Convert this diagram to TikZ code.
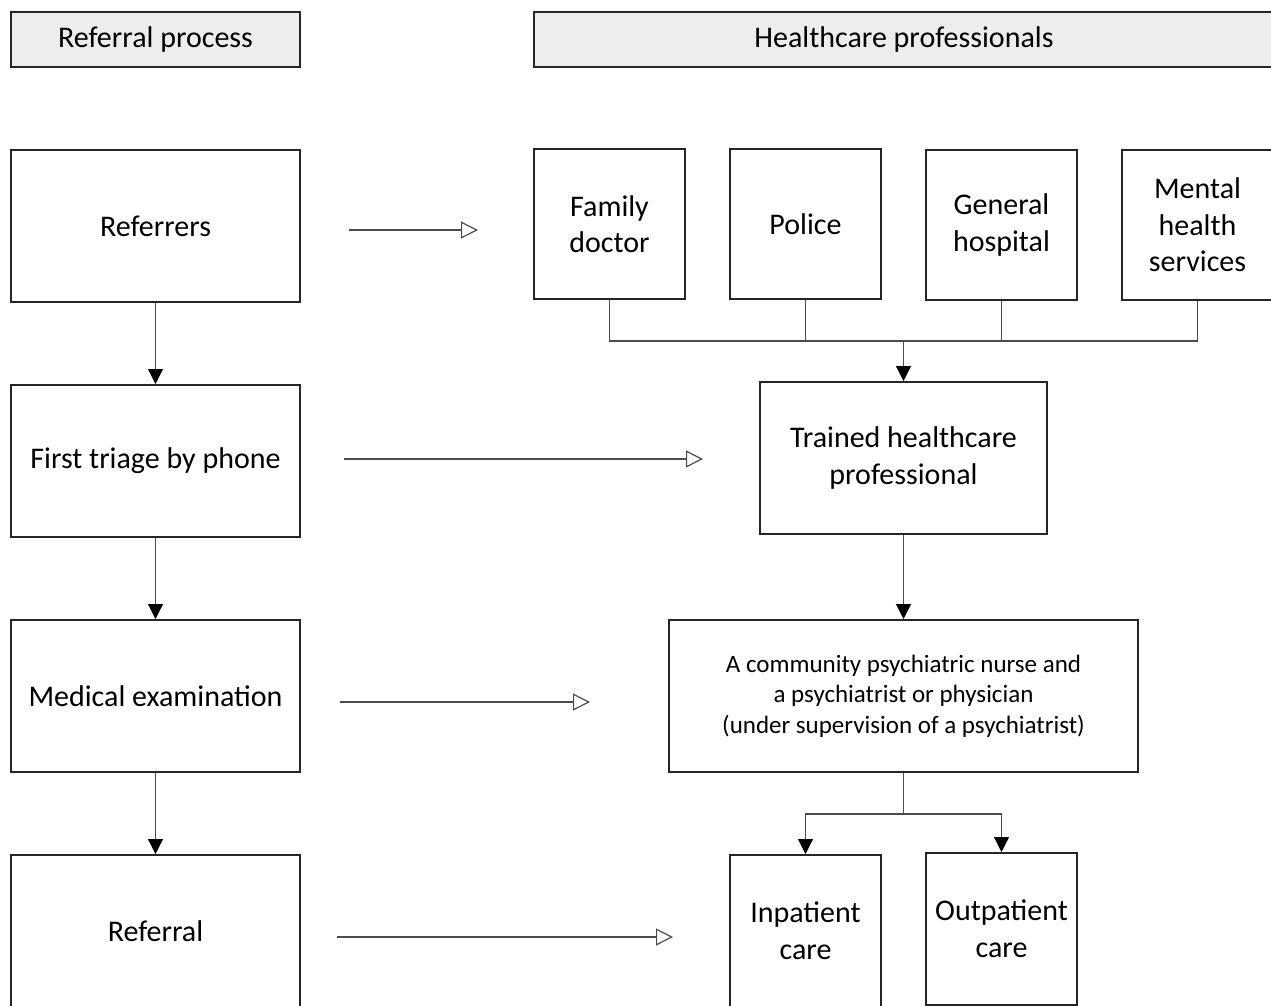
\documentclass[tikz,border=0pt]{standalone}
\usepackage{fontspec}
\setmainfont{Carlito}
\usetikzlibrary{arrows.meta}
\begin{document}
\begin{tikzpicture}[x=1pt,y=-1pt,
 box/.style={draw=black!85,line width=2pt,align=center,font=\fontsize{30}{36.6}\selectfont,inner sep=0pt},
 hdr/.style={box,fill=black!7},
 conn/.style={draw=black!70,line width=1.2pt},
 fa/.style={conn,-{Triangle[length=15pt,width=15pt,color=black]}},
 oa/.style={conn,-{Triangle[open,length=17pt,width=17pt,fill=white]}}]
\useasboundingbox (0,0) rectangle (1271,1005);
\clip (0,0) rectangle (1271,1005);
% headers
\node[hdr,minimum width=289pt,minimum height=55pt] (h1) at (155.5,39.5) {Referral process};
\node[hdr,minimum width=740pt,minimum height=55pt] (h2) at (904,39.5) {Healthcare professionals};
% left column
\node[box,minimum width=289pt,minimum height=152pt] (referrers) at (155.5,226) {Referrers};
\node[box,minimum width=289pt,minimum height=152pt] (triage) at (155.5,461) {First triage by phone};
\node[box,minimum width=289pt,minimum height=152pt] (medical) at (155.5,696) {Medical examination};
\node[box,minimum width=289pt,minimum height=152pt] (referral) at (155.5,931) {Referral};
% right side
\node[box,minimum width=151pt,minimum height=150pt] (family) at (609.5,224) {Family\\doctor};
\node[box,minimum width=151pt,minimum height=150pt] (police) at (805.5,224) {Police};
\node[box,minimum width=151pt,minimum height=150pt] (general) at (1001.5,225) {General\\hospital};
\node[box,minimum width=151pt,minimum height=150pt] (mental) at (1197.5,225) {Mental\\health\\services};
\node[box,minimum width=287pt,minimum height=152pt] (trained) at (903.5,458) {Trained healthcare\\professional};
\node[box,minimum width=469pt,minimum height=152pt,font=\fontsize{25}{30.5}\selectfont] (community) at (903.5,696) {A community psychiatric nurse and\\a psychiatrist or physician\\(under supervision of a psychiatrist)};
\node[box,minimum width=151pt,minimum height=152pt] (inpatient) at (805.5,931) {Inpatient\\care};
\node[box,minimum width=151pt,minimum height=152pt] (outpatient) at (1001.5,929) {Outpatient\\care};
% left vertical arrows
\draw[fa] (referrers) -- (triage);
\draw[fa] (triage) -- (medical);
\draw[fa] (medical) -- (referral);
% open horizontal arrows
\coordinate (a1s) at (349,230); \coordinate (a1e) at (478,230);
\coordinate (a2s) at (344,459); \coordinate (a2e) at (703,459);
\coordinate (a3s) at (340,702); \coordinate (a3e) at (590,702);
\coordinate (a4s) at (337,937); \coordinate (a4e) at (673,937);
\draw[oa] (a1s) -- (a1e);
\draw[oa] (a2s) -- (a2e);
\draw[oa] (a3s) -- (a3e);
\draw[oa] (a4s) -- (a4e);
% bus
\coordinate (bus) at (903.5,341);
\draw[conn] (family.south) -- (family.south |- bus) -- (mental.south |- bus) -- (mental.south);
\draw[conn] (police.south) -- (police.south |- bus);
\draw[conn] (general.south) -- (general.south |- bus);
\draw[fa] (bus) -- (trained.north);
\draw[fa] (trained) -- (community);
% split
\coordinate (split) at (903.5,814);
\draw[conn] (community.south) -- (split);
\draw[fa] (split) -| (inpatient.north);
\draw[fa] (split) -| (outpatient.north);
\end{tikzpicture}
\end{document}
